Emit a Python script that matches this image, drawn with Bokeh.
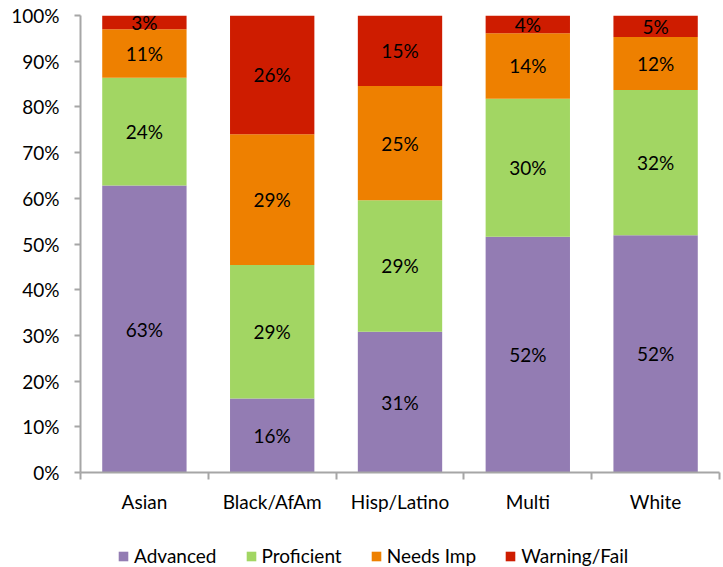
from bokeh.plotting import figure
from bokeh.models import ColumnDataSource, FixedTicker, Legend, LegendItem, Range1d
from bokeh.layouts import column
from bokeh.embed import file_html
from bokeh.resources import INLINE
from bokeh.core.properties import value

categories = ["Asian", "Black/AfAm", "Hisp/Latino", "Multi", "White"]
levels = ["Advanced", "Proficient", "Needs Imp", "Warning/Fail"]
advanced = [62.8, 16.2, 30.8, 51.6, 51.9]
proficient = [23.6, 29.2, 28.8, 30.2, 31.8]
needs_imp = [10.6, 28.6, 25.0, 14.3, 11.6]
warning_fail = [3.0, 26.0, 15.4, 3.9, 4.7]
y_ticks = [0, 10, 20, 30, 40, 50, 60, 70, 80, 90, 100]

colors = ["#937CB3", "#A2D663", "#EE8000", "#CE1C00"]
FONT = "Lato"
FS = "19px"

xpos = [i + 0.5 for i in range(len(categories))]
data = {"x": xpos, "Advanced": advanced, "Proficient": proficient,
        "Needs Imp": needs_imp, "Warning/Fail": warning_fail}
src = ColumnDataSource(data)

p = figure(frame_width=639, frame_height=457, output_backend="svg",
           toolbar_location=None, x_range=Range1d(0, len(categories)),
           y_range=Range1d(0, 100), min_border_left=80, min_border_top=15,
           min_border_right=3, min_border_bottom=42)
p.outline_line_color = None
p.xgrid.grid_line_color = None
p.ygrid.grid_line_color = None

p.vbar_stack(levels, x="x", width=0.66, source=src, color=colors, line_color=None)

# segment labels
lx, ly, lt = [], [], []
series = [advanced, proficient, needs_imp, warning_fail]
for i in range(len(categories)):
    base = 0.0
    for s in series:
        v = s[i]
        lx.append(xpos[i])
        ly.append(base + v / 2)
        lt.append("%d%%" % int(round(v)))
        base += v
p.text(x=lx, y=ly, text=lt, text_align="center", text_baseline="middle",
       text_font=value(FONT), text_font_size=FS, text_color="#000000")

axis_color = "#A6A6A6"
ya = p.yaxis[0]
ya.ticker = FixedTicker(ticks=y_ticks)
ya.major_label_overrides = {t: "%d%%" % t for t in y_ticks}
ya.axis_line_color = axis_color
ya.axis_line_width = 2
ya.major_tick_line_color = axis_color
ya.major_tick_line_width = 2
ya.major_tick_out = 6
ya.major_tick_in = 0
ya.minor_tick_line_color = None
ya.major_label_standoff = 15
ya.major_label_text_font = FONT
ya.major_label_text_font_size = FS
ya.major_label_text_color = "#000000"

xa = p.xaxis[0]
xa.ticker = FixedTicker(ticks=xpos, minor_ticks=list(range(len(categories) + 1)))
xa.major_label_overrides = {x: c for x, c in zip(xpos, categories)}
xa.axis_line_color = axis_color
xa.axis_line_width = 2
xa.major_tick_line_color = None
xa.major_tick_out = 0
xa.major_tick_in = 0
xa.minor_tick_line_color = axis_color
xa.minor_tick_line_width = 2
xa.minor_tick_out = 7
xa.minor_tick_in = 0
xa.major_label_standoff = 10
xa.major_label_text_font = FONT
xa.major_label_text_font_size = FS
xa.major_label_text_color = "#000000"

# legend in its own strip below the chart
lg = figure(width=715, height=52, output_backend="svg", toolbar_location=None,
            x_range=Range1d(0, 1), y_range=Range1d(0, 1), min_border=0,
            x_axis_location=None, y_axis_location=None)
lg.outline_line_color = None
lg.grid.grid_line_color = None
items = []
for lev, col in zip(levels, colors):
    # zero-height dummy bar, used only for the legend swatch
    r = lg.vbar(x=[0.5], top=[0], bottom=0, width=0.1, fill_color=col, line_color=None)
    items.append(LegendItem(label=lev, renderers=[r]))
legend = Legend(items=items, orientation="horizontal", location=(37, 0),
                glyph_width=12, glyph_height=12, label_standoff=5, spacing=28,
                label_text_font=FONT, label_text_font_size=FS,
                label_text_color="#000000", border_line_color=None,
                background_fill_alpha=0, padding=0, margin=0)
lg.add_layout(legend, "center")

layout = column(p, lg, spacing=0)
open("out.html", "w").write(file_html(layout, INLINE))
